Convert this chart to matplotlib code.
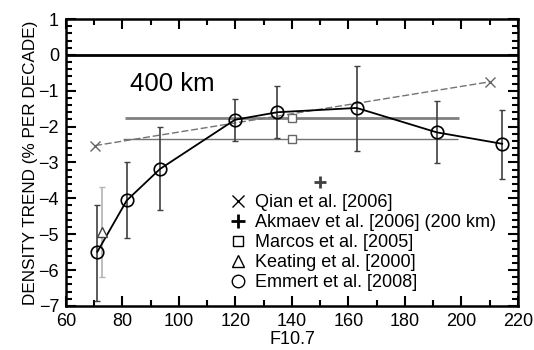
import matplotlib
matplotlib.use('Agg')
import matplotlib.pyplot as plt
from matplotlib.lines import Line2D
from matplotlib.ticker import MultipleLocator

plt.rcParams['font.family'] = ['Liberation Sans', 'DejaVu Sans']

# Emmert et al. [2008]
emm_f107 = [71.1, 81.5, 93.3, 119.8, 134.8, 162.9, 191.2, 214.4]
emm_trend = [-5.49, -4.06, -3.18, -1.81, -1.60, -1.48, -2.16, -2.48]
emm_hi = [-4.19, -3.00, -2.02, -1.23, -0.86, -0.32, -1.28, -1.54]
emm_lo = [-6.85, -5.10, -4.33, -2.41, -2.31, -2.67, -3.02, -3.45]

# Qian et al. [2006]
qian_f107 = [70.3, 210.1]
qian_trend = [-2.53, -0.75]

# Keating et al. [2000]
keat_f107 = [72.6]
keat_trend = [-4.94]
keat_hi = [-3.69]
keat_lo = [-6.19]

# Marcos et al. [2005] (value and F10.7 range)
marc_f107 = [139.9, 139.9]
marc_trend = [-1.76, -2.34]
marc_range = [(80.9, 199.2), (80.2, 198.8)]

# Akmaev et al. [2006] (200 km)
akm_f107 = [149.9]
akm_trend = [-3.55]

fig = plt.figure(figsize=(5.34, 3.5), dpi=100)
ax = fig.add_axes([0.1236, 0.126, 0.8464, 0.8197])

ax.axhline(0, color='black', lw=2)

# Marcos horizontal ranges
ax.hlines(marc_trend[0], *marc_range[0], color='0.5', lw=2)
ax.hlines(marc_trend[1], *marc_range[1], color='0.45', lw=1)
ax.plot(marc_f107, marc_trend, ls='none', marker='s', ms=6, mfc='white',
        mec='0.4', mew=1)

# Qian
ax.plot(qian_f107, qian_trend, ls='--', color='0.45', lw=1, marker='x',
        ms=7, mec='0.4', dashes=(5, 2))

# Keating
kerr = [[keat_trend[0] - keat_lo[0]], [keat_hi[0] - keat_trend[0]]]
ax.errorbar(keat_f107, keat_trend, yerr=kerr, fmt='^', ms=7, mfc='white',
            mec='0.25', ecolor='0.7', elinewidth=1.2, capsize=2)

# Emmert
eerr = [[t - l for t, l in zip(emm_trend, emm_lo)],
        [h - t for t, h in zip(emm_trend, emm_hi)]]
ax.errorbar(emm_f107, emm_trend, yerr=eerr, fmt='none', ecolor='0.25',
            elinewidth=1.2, capsize=2.5, capthick=1)
ax.plot(emm_f107, emm_trend, color='black', lw=1.3, marker='o', ms=9,
        mfc='none', mec='black', mew=1.2)

# Akmaev
ax.plot(akm_f107, akm_trend, ls='none', marker='+', ms=9, mew=2, color='0.25')

ax.text(82.7, -0.8, '400 km', fontsize=18.5, va='center', ha='left')

ax.set_xlim(60, 220)
ax.set_ylim(-7, 1)
ax.xaxis.set_major_locator(MultipleLocator(20))
ax.xaxis.set_minor_locator(MultipleLocator(10))
ax.yaxis.set_major_locator(MultipleLocator(1))
ax.yaxis.set_minor_locator(MultipleLocator(0.2))
ax.tick_params(which='both', direction='in', top=True, right=True,
               labelsize=13, width=1.5, pad=5)
ax.tick_params(which='major', length=7)
ax.tick_params(which='minor', length=4)
for s in ax.spines.values():
    s.set_linewidth(1.8)

ax.set_xlabel('F10.7', fontsize=13, labelpad=1)
ax.set_ylabel('DENSITY TREND (% PER DECADE)', fontsize=12.3, labelpad=0)

handles = [
    Line2D([], [], ls='none', marker='x', ms=8, color='black'),
    Line2D([], [], ls='none', marker='+', ms=10, mew=2, color='black'),
    Line2D([], [], ls='none', marker='s', ms=7, mfc='white', mec='black'),
    Line2D([], [], ls='none', marker='^', ms=8, mfc='white', mec='black'),
    Line2D([], [], ls='none', marker='o', ms=9, mfc='white', mec='black'),
]
labels = ['Qian et al. [2006]', 'Akmaev et al. [2006] (200 km)',
          'Marcos et al. [2005]', 'Keating et al. [2000]',
          'Emmert et al. [2008]']
ax.legend(handles, labels, loc='upper left', bbox_to_anchor=(0.365, 0.39),
          frameon=False, fontsize=13, handlelength=0.8, handletextpad=0.53,
          labelspacing=0.17, borderpad=0, borderaxespad=0)

fig.savefig('out.png', dpi=100)
